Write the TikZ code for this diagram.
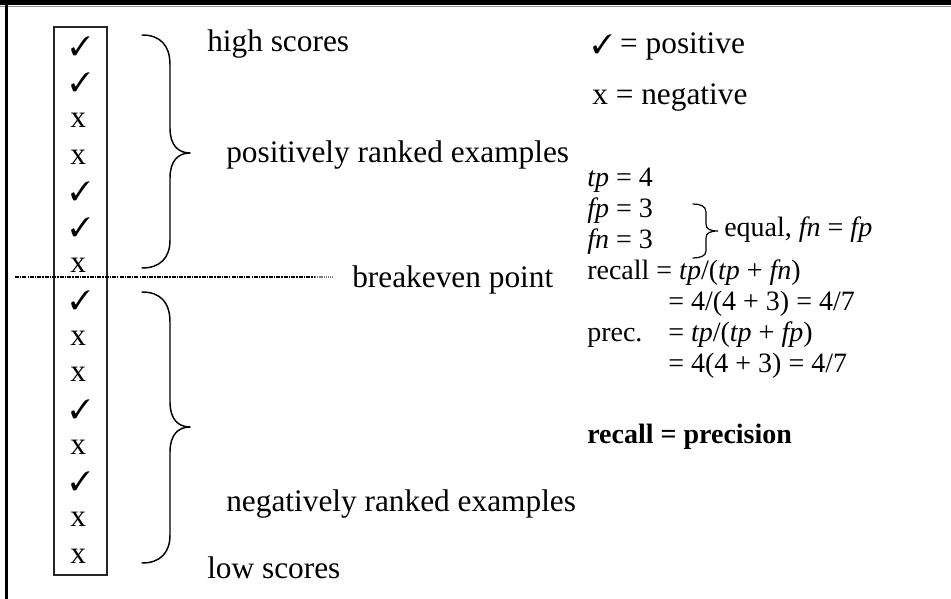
\documentclass[tikz,border=0pt]{standalone}
\usepackage{fontspec}
\setmainfont{Liberation Serif}
\usepackage{pifont}
\newcommand{\chk}{{\fontsize{20}{20}\selectfont\ding{51}}}
\newcommand{\bigfs}{\fontsize{23.5}{27}\selectfont}
\newcommand{\calcfs}{\fontsize{21}{25}\selectfont}
\begin{document}
\begin{tikzpicture}[x=0.75pt,y=-0.75pt,
  lbl/.style={anchor=base west, inner sep=0pt, font=\bigfs},
  calc/.style={anchor=base west, inner sep=0pt, font=\calcfs},
  rowlbl/.style={anchor=base west, inner sep=0pt, font=\bigfs},
  bracepath/.style={line width=1.1pt, line cap=round, line join=round}]
\useasboundingbox (0,0) rectangle (951,599);
% frame
\fill[black] (0,0) rectangle (951,5);
\draw[black!45, line width=1.2pt] (0,6.6) -- (951,6.6);
\draw[black, line width=2.4pt] (6.5,5) -- (6.5,599);
% column box
\node[draw=black!85, line width=0.8pt, minimum width=39.75pt, minimum height=411pt, inner sep=0pt] (box) at (80.5,301) {};
\foreach \s [count=\i] in {\chk,\chk,x,x,\chk,\chk,x,\chk,x,x,\chk,x,\chk,x,x}
  \node[rowlbl] (r\i) at (70,{55.5+(\i-1)*36.25}) {\s};
% breakeven line
\coordinate (bl) at (15,277);
\coordinate (bm) at (315,277);
\coordinate (br) at (333,277);
\draw[line width=1.1pt, dash pattern=on 3pt off 0.8pt on 1pt off 0.8pt] (bl) -- (bm);
\draw[black!50, line width=0.9pt, dash pattern=on 1pt off 0.6pt] (bm) -- (br);
% upper brace
\draw[bracepath] (142,35) .. controls (160,35) and (170,45) .. (170,65) -- (170,128)
  .. controls (170,145) and (178,153) .. (190,153)
  .. controls (178,153) and (170,161) .. (170,178) -- (170,240)
  .. controls (170,258) and (160,268) .. (142,268);
% lower brace
\draw[bracepath] (142,292) .. controls (160,292) and (170,302) .. (170,322) -- (170,402)
  .. controls (170,419) and (178,427) .. (190,427)
  .. controls (178,427) and (170,435) .. (170,452) -- (170,535)
  .. controls (170,553) and (160,563) .. (142,563);
% labels
\node[lbl] (hs) at (207,52) {high scores};
\node[lbl] (pos) at (226,163) {positively ranked examples};
\node[lbl] (be) at (352,288) {breakeven point};
\node[lbl] (neg) at (226,511) {negatively ranked examples};
\node[lbl] (ls) at (207,578) {low scores};
% legend
\node[lbl] (lp) at (592,54) {\chk\ = positive};
\node[lbl] (ln) at (592,105) {x = negative};
% calculations
\node[calc] (c1) at (587,187) {\textit{tp} = 4};
\node[calc] (c2) at (587,218) {\textit{fp} = 3};
\node[calc] (c3) at (587,249) {\textit{fn} = 3};
\draw[line width=0.9pt, line cap=round] (693,204) .. controls (700,204) and (706,206) .. (706,212) -- (706,224)
  .. controls (706,229) and (710,231) .. (718,231)
  .. controls (710,231) and (706,233) .. (706,238) -- (706,251)
  .. controls (706,256) and (700,258) .. (693,258);
\node[calc] (eq) at (724,237) {equal, \textit{fn} = \textit{fp}};
\node[calc] (c4) at (587,280) {recall = \textit{tp}/(\textit{tp} + \textit{fn})};
\node[calc] (c5) at (668,311) {= 4/(4 + 3) = 4/7};
\node[calc] (c6) at (587,342) {prec.};
\node[calc] (c6b) at (668,342) {= \textit{tp}/(\textit{tp} + \textit{fp})};
\node[calc] (c7) at (668,373) {= 4(4 + 3) = 4/7};
\node[calc, font=\calcfs\bfseries] (rp) at (587,443) {recall = precision};
\end{tikzpicture}
\end{document}
